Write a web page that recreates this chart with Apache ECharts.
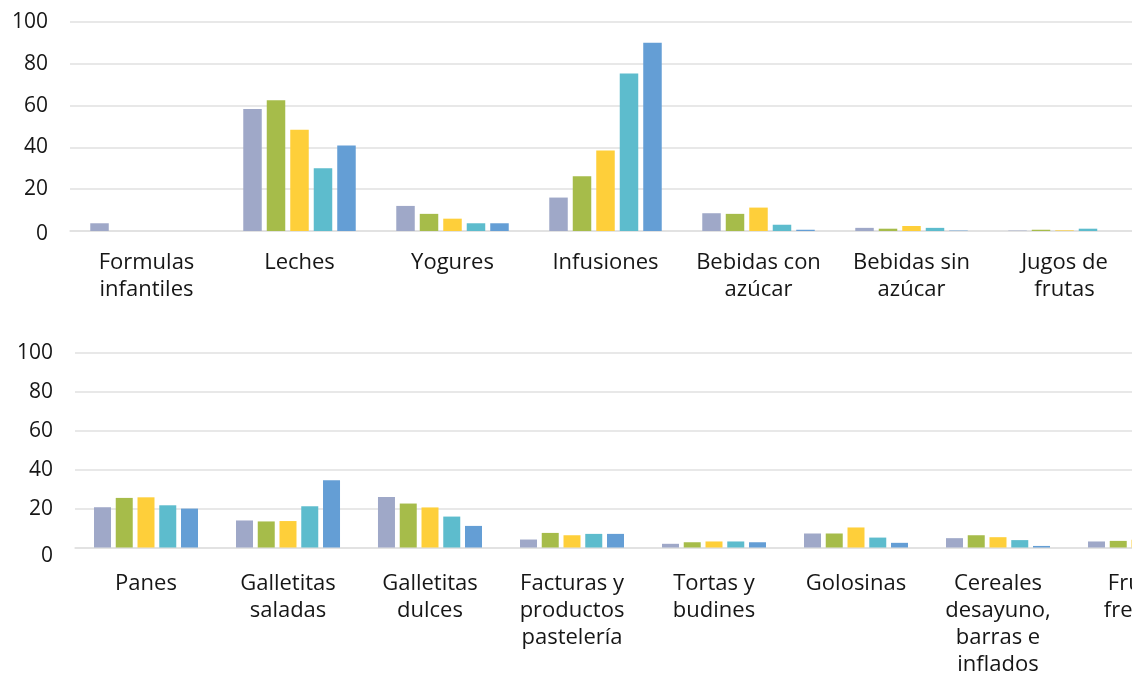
<!DOCTYPE html>
<html>
<head>
<meta charset="utf-8">
<script src="https://cdn.jsdelivr.net/npm/echarts@6/dist/echarts.min.js"></script>
<style>
  html, body { margin: 0; padding: 0; background: #fff; }
  #chart { width: 1132px; height: 675px; }
</style>
</head>
<body>
<div id="chart"></div>
<script>
// Bebidas (panel superior)
const drinkCategories = [
  'Formulas\ninfantiles', 'Leches', 'Yogures', 'Infusiones',
  'Bebidas con\nazúcar', 'Bebidas sin\nazúcar', 'Jugos de\nfrutas'
];
const drinkS1 = [3.7, 58.4, 12.0, 16.0, 8.5, 1.5, 0.2];
const drinkS2 = [0, 62.6, 8.2, 26.2, 8.2, 1.1, 0.6];
const drinkS3 = [0, 48.5, 5.9, 38.5, 11.2, 2.4, 0.3];
const drinkS4 = [0, 30.0, 3.7, 75.3, 3.0, 1.5, 1.1];
const drinkS5 = [0, 40.9, 3.7, 90.1, 0.6, 0.2, 0];

// Alimentos (panel inferior)
const foodCategories = [
  'Panes', 'Galletitas\nsaladas', 'Galletitas\ndulces',
  'Facturas y\nproductos\npastelería', 'Tortas y\nbudines', 'Golosinas',
  'Cereales\ndesayuno,\nbarras e\ninflados', 'Frutas\nfrescas'
];
const foodS1 = [20.7, 13.9, 26.0, 4.1, 1.9, 7.2, 4.8, 3.1];
const foodS2 = [25.5, 13.4, 22.6, 7.5, 2.7, 7.2, 6.3, 3.4];
const foodS3 = [25.8, 13.6, 20.6, 6.3, 3.1, 10.3, 5.3, 4.0];
const foodS4 = [21.7, 21.2, 15.9, 7.0, 3.1, 5.1, 3.8, 3.0];
const foodS5 = [20.0, 34.6, 11.1, 7.0, 2.7, 2.4, 0.8, 2.0];

const yTicks = { min: 0, max: 100, interval: 20 };
const palette = ['#9FA8C8', '#A6BC4A', '#FECF3A', '#5DBCCD', '#649ED5'];

const FONT = 'Open Sans';
const TEXT = '#161616';
const GRID_LINE = '#e0e0e0';

function yAxis(gridIndex, zeroPad) {
  return {
    type: 'value', gridIndex,
    min: yTicks.min, max: yTicks.max, interval: yTicks.interval,
    axisLine: { show: false }, axisTick: { show: false },
    splitLine: { lineStyle: { color: GRID_LINE, width: 1.5 } },
    axisLabel: {
      color: TEXT, fontFamily: FONT, fontSize: 21, margin: 22,
      formatter: v => v === 0 ? '{z|0}' : String(v),
      rich: { z: { color: TEXT, fontFamily: FONT, fontSize: 21, padding: [zeroPad, 0, 0, 0] } }
    }
  };
}

function xAxis(gridIndex, data, margin) {
  return {
    type: 'category', gridIndex, data,
    axisLine: { show: true, lineStyle: { color: GRID_LINE, width: 1.5 } },
    axisTick: { show: false },
    axisLabel: {
      color: TEXT, fontFamily: FONT, fontSize: 22, lineHeight: 27,
      margin, interval: 0, align: 'center'
    }
  };
}

function bars(values, idx, axisIndex, width, gap) {
  return {
    type: 'bar', xAxisIndex: axisIndex, yAxisIndex: axisIndex,
    data: values, barWidth: width, barGap: gap,
    itemStyle: { color: palette[idx] },
    silent: true
  };
}

const chart = echarts.init(document.getElementById('chart'), null, { renderer: 'canvas' });
chart.setOption({
  animation: false,
  backgroundColor: '#ffffff',
  grid: [
    { left: 70, width: 1071, top: 22, height: 209, outerBoundsMode: 'none', containLabel: false },
    { left: 75, width: 1136, top: 353, height: 194.5, outerBoundsMode: 'none', containLabel: false }
  ],
  xAxis: [xAxis(0, drinkCategories, 18), xAxis(1, foodCategories, 23)],
  yAxis: [yAxis(0, 6), yAxis(1, 18)],
  series: [
    bars(drinkS1, 0, 0, 18.5, '27%'),
    bars(drinkS2, 1, 0, 18.5, '27%'),
    bars(drinkS3, 2, 0, 18.5, '27%'),
    bars(drinkS4, 3, 0, 18.5, '27%'),
    bars(drinkS5, 4, 0, 18.5, '27%'),
    bars(foodS1, 0, 1, 17, '28%'),
    bars(foodS2, 1, 1, 17, '28%'),
    bars(foodS3, 2, 1, 17, '28%'),
    bars(foodS4, 3, 1, 17, '28%'),
    bars(foodS5, 4, 1, 17, '28%')
  ]
});
</script>
</body>
</html>
